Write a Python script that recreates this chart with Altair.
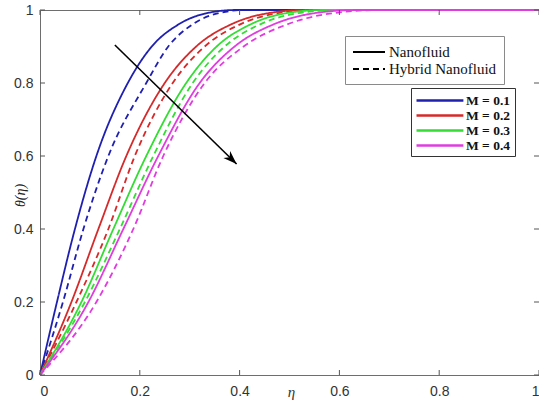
import altair as alt
import pandas as pd

# Temperature profiles theta(eta) for four magnetic parameters M,
# nanofluid (solid) versus hybrid nanofluid (dashed).
theta_levels = [0.0, 0.2, 0.4, 0.6, 0.8, 0.9, 0.96, 0.99, 1.0, 1.0]

eta_nf_m01 = [0.0, 0.034, 0.070, 0.113, 0.176, 0.224, 0.277, 0.330, 0.392, 1.0]
eta_hnf_m01 = [0.0, 0.046, 0.087, 0.137, 0.213, 0.257, 0.305, 0.354, 0.411, 1.0]
eta_nf_m02 = [0.0, 0.063, 0.117, 0.173, 0.250, 0.313, 0.382, 0.452, 0.534, 1.0]
eta_hnf_m02 = [0.0, 0.073, 0.137, 0.190, 0.266, 0.330, 0.400, 0.471, 0.554, 1.0]
eta_nf_m03 = [0.0, 0.083, 0.147, 0.213, 0.293, 0.354, 0.421, 0.488, 0.568, 1.0]
eta_hnf_m03 = [0.0, 0.090, 0.160, 0.227, 0.306, 0.370, 0.440, 0.511, 0.594, 1.0]
eta_nf_m04 = [0.0, 0.097, 0.167, 0.237, 0.320, 0.390, 0.467, 0.544, 0.635, 1.0]
eta_hnf_m04 = [0.0, 0.113, 0.187, 0.247, 0.330, 0.408, 0.494, 0.580, 0.681, 1.0]

m_labels = ["M = 0.1", "M = 0.2", "M = 0.3", "M = 0.4"]
m_colors = ["#2020b0", "#d62a2a", "#33dd33", "#e03ce0"]
fluid_labels = ["Nanofluid", "Hybrid Nanofluid"]

axis_ticks = [0.0, 0.2, 0.4, 0.6, 0.8, 1.0]

# trend arrow (increasing M)
arrow_eta = [0.150, 0.394]
arrow_theta = [0.904, 0.578]

series = [
    (m_labels[0], fluid_labels[0], eta_nf_m01),
    (m_labels[0], fluid_labels[1], eta_hnf_m01),
    (m_labels[1], fluid_labels[0], eta_nf_m02),
    (m_labels[1], fluid_labels[1], eta_hnf_m02),
    (m_labels[2], fluid_labels[0], eta_nf_m03),
    (m_labels[2], fluid_labels[1], eta_hnf_m03),
    (m_labels[3], fluid_labels[0], eta_nf_m04),
    (m_labels[3], fluid_labels[1], eta_hnf_m04),
]
rows = []
for m, fluid, etas in series:
    for e, t in zip(etas, theta_levels):
        rows.append({"eta": e, "theta": t, "M": m, "fluid": fluid, "curve": m + fluid})
df = pd.DataFrame(rows)

W, H = 499, 365
TICK = 5
x_scale = alt.Scale(domain=[0, 1], nice=False, zero=False)
y_scale = alt.Scale(domain=[0, 1], nice=False, zero=False)

x_axis = alt.Axis(
    values=axis_ticks, format="~g", ticks=False, domain=False, grid=False,
    labelFont="Liberation Sans", labelFontSize=14, labelColor="#333333",
    labelPadding=9, title="η", titleFont="Liberation Serif", titleFontStyle="italic",
    titleFontWeight="normal", titleFontSize=15, titleColor="#333333",
    titleX=251, titleY=16, titleBaseline="middle",
)
y_axis = alt.Axis(
    values=axis_ticks, format="~g", ticks=False, domain=False, grid=False,
    labelFont="Liberation Sans", labelFontSize=14, labelColor="#333333",
    labelPadding=7, title="θ(η)", titleFont="Liberation Serif", titleFontStyle="italic",
    titleFontWeight="normal", titleFontSize=14, titleColor="#222222",
    titleX=-20, titleY=185, titleBaseline="middle",
)

# long horizontal legend swatches drawn from a short symbol size,
# so the legend rows stay tight
m_swatch = "M-1,0 L5.7,0"
fluid_swatch = "M-1,0 L3,0"

lines = alt.Chart(df).mark_line(strokeWidth=1.8, interpolate="monotone").encode(
    x=alt.X("eta:Q", scale=x_scale, axis=x_axis),
    y=alt.Y("theta:Q", scale=y_scale, axis=y_axis),
    color=alt.Color(
        "M:N",
        scale=alt.Scale(domain=m_labels, range=m_colors),
        legend=alt.Legend(
            title=None, orient="none", legendX=371, legendY=78,
            fillColor="white", strokeColor="#333333", padding=4,
            symbolType=m_swatch, symbolSize=196, symbolStrokeWidth=2.5,
            symbolDash=[1, 0],
            labelFont="Liberation Serif", labelFontWeight="bold",
            labelFontSize=13.5, labelColor="#111111", labelOffset=34,
            rowPadding=0,
        ),
    ),
    strokeDash=alt.StrokeDash(
        "fluid:N",
        scale=alt.Scale(domain=fluid_labels, range=[[1, 0], [6, 4]]),
        legend=alt.Legend(
            title=None, orient="none", legendX=305, legendY=26,
            fillColor="white", strokeColor="#8a8a8a", padding=7,
            symbolType=fluid_swatch, symbolSize=256, symbolStrokeWidth=1.8,
            symbolStrokeColor="black",
            labelFont="Liberation Serif", labelFontSize=15,
            labelColor="#111111", labelOffset=19, rowPadding=0,
        ),
    ),
    detail="curve:N",
)

arrow_df = pd.DataFrame({"eta": arrow_eta, "theta": arrow_theta})
arrow_line = alt.Chart(arrow_df).mark_line(color="black", strokeWidth=1.6).encode(
    x=alt.X("eta:Q", scale=x_scale, axis=x_axis),
    y=alt.Y("theta:Q", scale=y_scale, axis=y_axis),
)
arrow_head = alt.Chart(arrow_df.iloc[[1]]).mark_point(
    shape="M0,0 L0.6,1.7 L0,1.2 L-0.6,1.7 Z",
    filled=True, color="black", opacity=1, size=260, angle=134,
).encode(
    x=alt.X("eta:Q", scale=x_scale, axis=x_axis),
    y=alt.Y("theta:Q", scale=y_scale, axis=y_axis),
)

tick_df = pd.DataFrame({"v": axis_ticks})
tick_style = dict(color="#555555", strokeWidth=1)
bottom_ticks = alt.Chart(tick_df).mark_rule(**tick_style).encode(
    x=alt.X("v:Q", scale=x_scale, axis=x_axis), y=alt.value(H), y2=alt.value(H - TICK))
top_ticks = alt.Chart(tick_df).mark_rule(**tick_style).encode(
    x=alt.X("v:Q", scale=x_scale, axis=x_axis), y=alt.value(0), y2=alt.value(TICK))
left_ticks = alt.Chart(tick_df).mark_rule(**tick_style).encode(
    y=alt.Y("v:Q", scale=y_scale, axis=y_axis), x=alt.value(0), x2=alt.value(TICK))
right_ticks = alt.Chart(tick_df).mark_rule(**tick_style).encode(
    y=alt.Y("v:Q", scale=y_scale, axis=y_axis), x=alt.value(W - TICK), x2=alt.value(W))

chart = alt.layer(
    lines, arrow_line, arrow_head, bottom_ticks, top_ticks, left_ticks, right_ticks
).properties(
    width=W, height=H,
    autosize=alt.AutoSizeParams(type="none"),
    padding={"left": 40, "top": 10, "right": 0, "bottom": 28},
    background="white",
).configure_view(
    stroke="#6e6e6e", strokeWidth=1,
)

chart.save("out.html", embed_options={"renderer": "svg", "actions": False})
